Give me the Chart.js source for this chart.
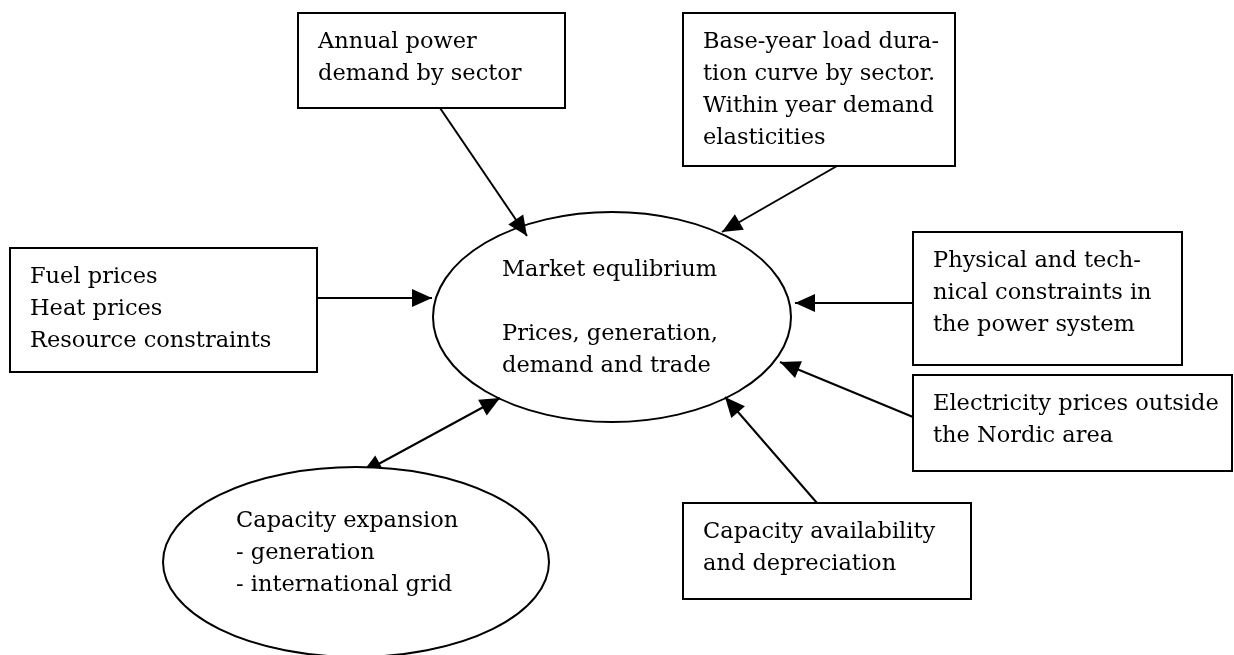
<!DOCTYPE html>
<html>
<head>
<meta charset="utf-8">
<script src="https://cdn.jsdelivr.net/npm/chart.js@4.4.1/dist/chart.umd.min.js"></script>
<style>
  html, body { margin: 0; padding: 0; background: #fff; }
  #wrap { width: 1234px; height: 655px; }
</style>
</head>
<body>
<div id="wrap"><canvas id="diagram" width="1234" height="655"></canvas></div>
<script>
// diagram units = page pixels (x right, y down)
const boxText = [
  ['Annual power', 'demand by sector'],
  ['Base-year load dura-', 'tion curve by sector.', 'Within year demand', 'elasticities'],
  ['Fuel prices', 'Heat prices', 'Resource constraints'],
  ['Physical and tech-', 'nical constraints in', 'the power system'],
  ['Electricity prices outside', 'the Nordic area'],
  ['Capacity availability', 'and depreciation']
];
const boxLeft = [298, 683, 10, 913, 913, 683];
const boxTop = [13, 13, 248, 232, 375, 503];
const boxRight = [565, 955, 317, 1182, 1232, 971];
const boxBottom = [108, 166, 372, 365, 471, 599];

const ellipseText = [
  ['Market equlibrium', '', 'Prices, generation,', 'demand and trade'],
  ['Capacity expansion', '- generation', '- international grid']
];
const ellipseCx = [612, 356];
const ellipseCy = [317, 562];
const ellipseRx = [179, 193];
const ellipseRy = [105, 95];
const ellipseTextX = [502, 236];
const ellipseTextY = [276, 527];

// arrows: tail -> head
const arrowFrom = [[440, 108], [837, 166], [317, 298], [913, 303], [913, 417], [817, 503], [362, 473]];
const arrowTo = [[527, 236], [722, 232], [432, 298], [795, 303], [780, 362], [725, 397], [500, 398]];
const arrowTwoWay = [false, false, false, false, false, false, true];

const FONT = '22.5px "DejaVu Serif"';
const LINE_H = 32;
const STROKE = 2;

function arrowHead(ctx, x0, y0, x1, y1) {
  const a = Math.atan2(y1 - y0, x1 - x0);
  const len = 20, half = 9;
  ctx.beginPath();
  ctx.moveTo(x1, y1);
  ctx.lineTo(x1 - len * Math.cos(a) + half * Math.sin(a), y1 - len * Math.sin(a) - half * Math.cos(a));
  ctx.lineTo(x1 - len * Math.cos(a) - half * Math.sin(a), y1 - len * Math.sin(a) + half * Math.cos(a));
  ctx.closePath();
  ctx.fill();
}

function drawLines(ctx, lines, x, y) {
  ctx.font = FONT;
  ctx.fillStyle = '#000';
  ctx.textAlign = 'left';
  ctx.textBaseline = 'alphabetic';
  lines.forEach((t, i) => ctx.fillText(t, x, y + i * LINE_H));
}

function drawEllipse(ctx, sx, sy, i) {
  const cx = sx.getPixelForValue(ellipseCx[i]);
  const cy = sy.getPixelForValue(ellipseCy[i]);
  const rx = sx.getPixelForValue(ellipseCx[i] + ellipseRx[i]) - cx;
  const ry = sy.getPixelForValue(ellipseCy[i] + ellipseRy[i]) - cy;
  ctx.beginPath();
  ctx.ellipse(cx, cy, rx, ry, 0, 0, Math.PI * 2);
  ctx.fillStyle = '#fff';
  ctx.fill();
  ctx.lineWidth = STROKE;
  ctx.strokeStyle = '#000';
  ctx.stroke();
  drawLines(ctx, ellipseText[i], sx.getPixelForValue(ellipseTextX[i]), sy.getPixelForValue(ellipseTextY[i]));
}

const shapes = {
  id: 'shapes',
  beforeDatasetsDraw(chart) {
    const { ctx, scales: { x: sx, y: sy } } = chart;
    ctx.save();
    ctx.fillStyle = '#fff';
    ctx.fillRect(0, 0, chart.width, chart.height);
    boxText.forEach((lines, i) => {
      const x0 = sx.getPixelForValue(boxLeft[i]);
      const y0 = sy.getPixelForValue(boxTop[i]);
      const x1 = sx.getPixelForValue(boxRight[i]);
      const y1 = sy.getPixelForValue(boxBottom[i]);
      ctx.lineWidth = STROKE;
      ctx.strokeStyle = '#000';
      ctx.strokeRect(x0, y0, x1 - x0, y1 - y0);
      drawLines(ctx, lines, x0 + 20, y0 + 35);
    });
    drawEllipse(ctx, sx, sy, 0);
    ctx.restore();
  },
  afterDatasetsDraw(chart) {
    const { ctx, scales: { x: sx, y: sy } } = chart;
    ctx.save();
    ctx.fillStyle = '#000';
    chart.data.datasets.forEach((ds, i) => {
      const pts = chart.getDatasetMeta(i).data;
      const p0 = pts[0], p1 = pts[1];
      arrowHead(ctx, p0.x, p0.y, p1.x, p1.y);
      if (arrowTwoWay[i]) arrowHead(ctx, p1.x, p1.y, p0.x, p0.y);
    });
    drawEllipse(ctx, sx, sy, 1);
    ctx.restore();
  }
};

new Chart(document.getElementById('diagram'), {
  type: 'line',
  data: {
    datasets: arrowFrom.map((f, i) => ({
      data: [{ x: f[0], y: f[1] }, { x: arrowTo[i][0], y: arrowTo[i][1] }],
      borderColor: '#000',
      borderWidth: STROKE,
      pointRadius: 0,
      fill: false,
      tension: 0
    }))
  },
  options: {
    responsive: false,
    animation: false,
    layout: { padding: 0 },
    scales: {
      x: { type: 'linear', min: 0, max: 1234, display: false },
      y: { type: 'linear', min: 0, max: 655, reverse: true, display: false }
    },
    plugins: { legend: { display: false }, tooltip: { enabled: false } }
  },
  plugins: [shapes]
});
</script>
</body>
</html>
